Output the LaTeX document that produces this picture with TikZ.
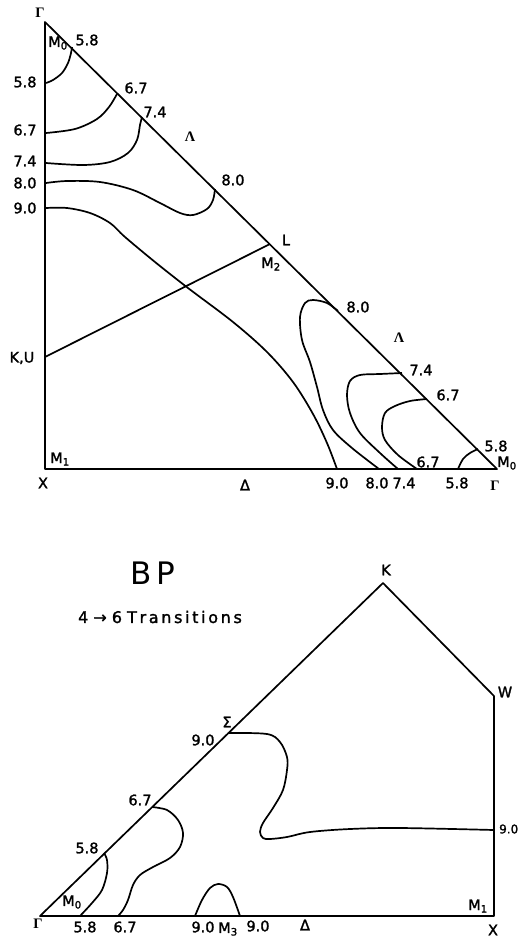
\documentclass[tikz,border=0pt]{standalone}
\usepackage{fontspec}
\setmainfont{DejaVu Sans}
\newfontfamily\lblfont{DejaVu Sans}[FakeBold=1.6]
\newfontfamily\grkserif{Liberation Serif}
\usetikzlibrary{calc}
\tikzset{
  lbl/.style   = {font=\lblfont\fontsize{14.5}{16}\selectfont, inner sep=0pt},
  zone/.style  = {line width=1.7pt, line join=round},
  cont/.style  = {line width=1.7pt, smooth, tension=0.55}
}
\newcommand{\Msub}[1]{M\textsubscript{#1}}
\newcommand{\Gam}{{\grkserif\bfseries Γ}}
\newcommand{\Lam}{{\grkserif\bfseries Λ}}

\begin{document}
\begin{tikzpicture}[x=1pt, y=-1pt]
\useasboundingbox (0,0) rectangle (518,938);

%% ---------------- upper zone ----------------
\coordinate (ga) at (45,22);
\coordinate (xa) at (45,469);
\coordinate (gb) at (497,469);
\coordinate (ku) at (45,357);
\coordinate (l)  at (270,244);

\draw[zone] (ga) -- (xa) -- (gb) -- cycle;
\draw[zone] (ku) -- (l);

%% contours near upper Gamma
\draw[cont] plot coordinates {(46,83) (53,80) (62,73) (68,63) (71,53) (72,47)};
\draw[cont] plot coordinates {(46,133) (75,129) (97,119) (109,107) (117,94)};
\draw[cont] plot coordinates {(46,163) (83,165) (110,162) (128,153) (137,140) (140,125) (142,117)};
\draw[cont] plot coordinates {(46,183) (67,181) (100,182) (133,190) (160,203) (180,213)
                              (193,215) (207,209) (213,200) (215,189)};
\draw[cont] plot coordinates {(46,208) (67,208) (90,213) (110,223) (125,237) (155,262)
                              (188,288) (233,322) (267,352) (293,382) (313,414) (327,443) (337,469)};
%% contours near lower Gamma
\draw[cont] plot coordinates {(338,311) (327,303) (313,300) (305,303) (300,317) (302,340)
                              (310,362) (317,387) (323,410) (333,430) (352,448) (379,469)};
\draw[cont] plot coordinates {(402,373) (380,374) (360,375) (350,381) (347,395) (350,413)
                              (360,433) (380,453) (398,469)};
\draw[cont] plot coordinates {(427,399) (410,401) (395,406) (385,413) (382,427) (385,440)
                              (398,455) (417,469)};
\draw[cont] plot coordinates {(458,469) (463,459) (470,453) (478,449)};

%% labels
\node[lbl] (tga)  at (40,13)  {\Gam};
\node[lbl] (tm0a) at (58,43)  {\Msub{0}};
\node[lbl] (t1)   at (87,40)  {5.8};
\node[lbl] (t2)   at (25,82)  {5.8};
\node[lbl] (t3)   at (136,88) {6.7};
\node[lbl] (t4)   at (25,130) {6.7};
\node[lbl] (t5)   at (155,112) {7.4};
\node[lbl] (t6)   at (25,161) {7.4};
\node[lbl] (tla)  at (190,137) {\Lam};
\node[lbl] (t7)   at (233,180) {8.0};
\node[lbl] (t8)   at (25,183) {8.0};
\node[lbl] (t9)   at (25,208) {9.0};
\node[lbl] (tl)   at (286,240) {L};
\node[lbl] (tm2)  at (271,264) {\Msub{2}};
\node[lbl] (tku)  at (22,358) {K,U};
\node[lbl] (t10)  at (358,307) {8.0};
\node[lbl] (tlb)  at (399,338) {\Lam};
\node[lbl] (t11)  at (421,370) {7.4};
\node[lbl] (t12)  at (448,395) {6.7};
\node[lbl] (t13)  at (496,446) {5.8};
\node[lbl] (tm0b) at (507,463) {\Msub{0}};
\node[lbl] (t14)  at (428,462) {6.7};
\node[lbl] (tm1a) at (60,459) {\Msub{1}};
\node[lbl] (txa)  at (43,483) {X};
\node[lbl] (tda)  at (245,485) {Δ};
\node[lbl] (t15)  at (337,483) {9.0};
\node[lbl] (t16)  at (377,483) {8.0};
\node[lbl] (t17)  at (404,483) {7.4};
\node[lbl] (t18)  at (457,483) {5.8};
\node[lbl] (tgb)  at (495,486) {\Gam};

%% ---------------- lower zone ----------------
\node[font=\fontsize{31}{33}\selectfont] (bp) at (153,573) {B\,P};
\node[font=\lblfont\fontsize{16}{18}\selectfont] (tr) at (160,617) {4 → 6 T\,r\,a\,n\,s\,i\,t\,i\,o\,n\,s};

\coordinate (gc) at (40,916);
\coordinate (kc) at (383,583);
\coordinate (wc) at (494,696);
\coordinate (xc) at (494,916);

\draw[zone] (gc) -- (kc) -- (wc) -- (xc) -- cycle;

\draw[cont] plot coordinates {(104,853) (107,860) (107,873) (102,890) (92,903) (80,916)};
\draw[cont] plot coordinates {(152,807) (167,810) (178,820) (183,833) (180,847) (170,858)
                              (153,867) (140,875) (133,885) (128,900) (123,910) (118,916)};
\draw[cont] plot coordinates {(195,916) (202,900) (210,888) (218,884) (227,887) (233,897) (240,916)};
\draw[cont] plot coordinates {(228,733) (267,734) (280,742) (287,757) (287,770) (283,790)
                              (273,808) (263,823) (260,832) (263,838) (270,839) (287,837)
                              (310,832) (350,829) (400,828) (494,830)};

\node[lbl] (tk)   at (386,570) {K};
\node[lbl] (tw)   at (505,692) {W};
\node[lbl] (tsg)  at (227,722) {Σ};
\node[lbl] (u1)   at (203,740) {9.0};
\node[lbl] (u2)   at (140,800) {6.7};
\node[lbl] (u3)   at (87,848)  {5.8};
\node[lbl] (tm0c) at (72,902)  {\Msub{0}};
\node[lbl] (tgc)  at (38,924)  {\Gam};
\node[lbl] (u4)   at (85,927)  {5.8};
\node[lbl] (u5)   at (125,927) {6.7};
\node[lbl] (u6)   at (203,927) {9.0};
\node[lbl] (tm3)  at (228,929) {\Msub{3}};
\node[lbl] (u7)   at (258,926) {9.0};
\node[lbl] (tdc)  at (305,925) {Δ};
\node[lbl] (txc)  at (493,930) {X};
\node[lbl] (tm1c) at (478,906) {\Msub{1}};
\node[lbl, font=\lblfont\fontsize{12}{14}\selectfont, anchor=west] (u8) at (499,829) {9.0};

\end{tikzpicture}
\end{document}
